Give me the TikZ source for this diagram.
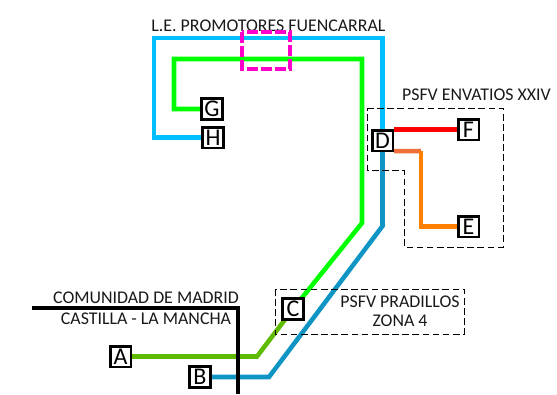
\documentclass[tikz,border=0pt]{standalone}
\usepackage{fontspec}
\setmainfont{Carlito}
\definecolor{brightblue}{HTML}{00BFFF}
\definecolor{darkblue}{HTML}{0E95C4}
\definecolor{brightgreen}{HTML}{00FF00}
\definecolor{darkgreen}{HTML}{5FBB00}
\definecolor{lineorange}{HTML}{FF8000}
\definecolor{softorange}{HTML}{F0703A}
\definecolor{dashpink}{HTML}{FF00CC}
\pgfdeclarelayer{routes}
\pgfsetlayers{routes,main}
\begin{document}
\begin{tikzpicture}[x=0.75pt,y=-0.75pt,
  route/.style={line width=3.4pt,line join=miter},
  station/.style={draw=black,fill=white,line width=2pt,minimum width=15.5pt,minimum height=15.5pt,inner sep=0pt,font=\fontsize{18pt}{18pt}\selectfont},
  zone/.style={draw=black,line width=0.6pt,dash pattern=on 5pt off 2.6pt},
  label/.style={inner sep=0pt,text=black!90,font=\fontsize{13.4pt}{15pt}\selectfont}]
\useasboundingbox (0,0) rectangle (557,394);

\node[label] (tfuen) at (268.5,26) {L.E. PROMOTORES FUENCARRAL};
\node[label] (tenv) at (476.5,95) {PSFV ENVATIOS XXIV};
\node[label] (tcm) at (146,298) {COMUNIDAD DE MADRID};
\node[label] (tclm) at (146,319) {CASTILLA - LA MANCHA};
\node[label] (tpra) at (400,302) {PSFV PRADILLOS};
\node[label] (tzon) at (400,321) {ZONA 4};

\draw[zone] (367,108) -- (503,108) -- (503,247) -- (404,247) -- (404,170) -- (367,170) -- cycle;
\draw[zone] (275,289) rectangle (464,334);

\node[station] (A) at (120.5,356.5) {A};
\node[station] (B) at (200,377) {B};
\node[station] (C) at (293,309) {C};
\node[station] (D) at (382.5,140.5) {D};
\node[station] (E) at (468.5,226.5) {E};
\node[station] (F) at (468.5,129.5) {F};
\node[station] (G) at (212,109) {G};
\node[station] (H) at (213,137.5) {H};

\coordinate (hl) at (154,137.5);
\coordinate (tl) at (154,38);
\coordinate (tr) at (382.5,38);
\coordinate (bb) at (382.5,226);
\coordinate (bc) at (269,377);
\coordinate (gl) at (174,109);
\coordinate (gt) at (174,59);
\coordinate (gr) at (362,59);
\coordinate (gb) at (362,223);
\coordinate (ac) at (257,356.5);
\coordinate (oc) at (421,151);
\coordinate (od) at (421,226.5);
\coordinate (bl1) at (32,308);
\coordinate (bl2) at (238,308);
\coordinate (bl3) at (238,394);

\begin{pgfonlayer}{routes}
\draw[route,brightblue] (H.west) -- (hl) -- (tl) -- (tr) -- (D.north);
\draw[route,darkblue] (D.south) -- (bb) -- (bc) -- (B.east);
\draw[route,brightgreen] (G.west) -- (gl) -- (gt) -- (gr) -- (gb) -- (C.center);
\draw[route,darkgreen] (C.center) -- (ac) -- (A.east);
\draw[route,red] (D.east |- F.west) -- (F.west);
\draw[route,softorange] (D.south east) ++(0,-1) -- (oc);
\draw[route,lineorange] (oc) -- (od) -- (E.west);
\draw[line width=3pt,black] (bl1) -- (bl2) -- (bl3);
\end{pgfonlayer}

\draw[dashpink,line width=2.6pt,dash pattern=on 8pt off 2.5pt] (242,32) rectangle (290,69);
\end{tikzpicture}
\end{document}
